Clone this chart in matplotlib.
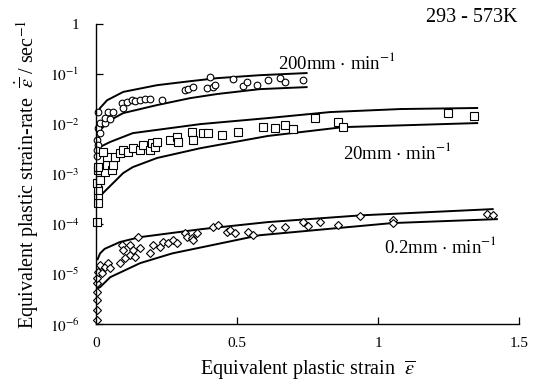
import matplotlib
matplotlib.use("Agg")
import matplotlib.pyplot as plt
from matplotlib.ticker import FixedLocator, FixedFormatter

plt.rcParams['font.family'] = ['Liberation Serif', 'DejaVu Serif']
plt.rcParams['mathtext.fontset'] = 'stix'

# ---- measured data: 200 mm/min (circles) ----
strain_200 = [0.004, 0.007, 0.004, 0.004, 0.007, 0.014, 0.014, 0.032, 0.007, 0.043,
              0.060, 0.032, 0.050, 0.092, 0.096, 0.110, 0.128, 0.138, 0.156, 0.174,
              0.191, 0.234, 0.316, 0.326, 0.344, 0.394, 0.415, 0.404, 0.422, 0.486,
              0.521, 0.535, 0.571, 0.610, 0.652, 0.670, 0.734]
rate_200 = [0.0048, 0.0038, 0.0030, 0.0023, 0.0083, 0.0066, 0.0105, 0.0105, 0.0174, 0.0174,
            0.0174, 0.0132, 0.0126, 0.026, 0.021, 0.0275, 0.030, 0.029, 0.030, 0.032,
            0.032, 0.030, 0.048, 0.050, 0.055, 0.052, 0.055, 0.087, 0.060, 0.079,
            0.058, 0.069, 0.060, 0.076, 0.083, 0.069, 0.076]

# ---- measured data: 20 mm/min (squares) ----
strain_20 = [0.004, 0.007, 0.007, 0.007, 0.004, 0.014, 0.007, 0.032, 0.007, 0.039,
             0.057, 0.060, 0.039, 0.025, 0.067, 0.085, 0.096, 0.113, 0.131, 0.156,
             0.167, 0.191, 0.199, 0.209, 0.216, 0.262, 0.287, 0.291, 0.340, 0.344,
             0.379, 0.397, 0.447, 0.504, 0.592, 0.635, 0.670, 0.699, 0.777, 0.858,
             0.876, 1.248, 1.340]
rate_20 = [1.1e-4, 2.6e-4, 3.8e-4, 4.8e-4, 6.6e-4, 7.6e-4, 1.2e-3, 1.1e-3, 1.38e-3, 1.5e-3,
           1.2e-3, 1.5e-3, 2.2e-3, 2.75e-3, 2.2e-3, 2.6e-3, 3.0e-3, 2.75e-3, 3.3e-3, 3.0e-3,
           3.8e-3, 3.0e-3, 4.2e-3, 3.5e-3, 4.4e-3, 4.8e-3, 5.5e-3, 4.4e-3, 6.9e-3, 4.8e-3,
           6.6e-3, 6.6e-3, 6.0e-3, 6.9e-3, 8.7e-3, 8.3e-3, 9.5e-3, 7.9e-3, 1.32e-2, 1.1e-2,
           8.7e-3, 1.66e-2, 1.45e-2]

# ---- measured data: 0.2 mm/min (diamonds) ----
strain_02 = [0.002, 0.002, 0.002, 0.002, 0.004, 0.004, 0.007, 0.014, 0.021, 0.032,
             0.043, 0.050, 0.085, 0.092, 0.096, 0.103, 0.121, 0.121, 0.131, 0.149,
             0.156, 0.138, 0.191, 0.202, 0.227, 0.238, 0.255, 0.273, 0.287, 0.316,
             0.323, 0.340, 0.344, 0.358, 0.415, 0.433, 0.465, 0.475, 0.493, 0.539,
             0.557, 0.624, 0.670, 0.734, 0.752, 0.794, 0.858, 0.936, 1.053, 1.053,
             1.387, 1.408]
rate_02 = [1.2e-6, 1.9e-6, 3.0e-6, 4.4e-6, 6.6e-6, 8.3e-6, 1.1e-5, 1.5e-5, 1.05e-5, 1.38e-5,
           1.66e-5, 1.32e-5, 1.66e-5, 3.8e-5, 3.0e-5, 2.1e-5, 3.8e-5, 2.4e-5, 3.0e-5, 5.5e-5,
           3.3e-5, 2.2e-5, 2.6e-5, 3.8e-5, 3.5e-5, 4.4e-5, 4.2e-5, 4.8e-5, 4.2e-5, 6.6e-5,
           5.5e-5, 5.2e-5, 4.8e-5, 6.6e-5, 8.7e-5, 9.5e-5, 6.9e-5, 7.6e-5, 6.6e-5, 6.9e-5,
           6.0e-5, 8.3e-5, 8.7e-5, 1.1e-4, 9.1e-5, 1.1e-4, 9.5e-5, 1.45e-4, 1.2e-4, 1.05e-4,
           1.58e-4, 1.51e-4]

# ---- predicted bounds (upper / lower) ----
bound_200_up_x = [0.007, 0.014, 0.039, 0.096, 0.216, 0.333, 0.43, 0.58, 0.75]
bound_200_up_y = [0.016, 0.021, 0.030, 0.044, 0.060, 0.072, 0.083, 0.095, 0.105]
bound_200_lo_x = [0.007, 0.014, 0.05, 0.096, 0.216, 0.333, 0.43, 0.58, 0.75]
bound_200_lo_y = [0.005, 0.0076, 0.012, 0.0166, 0.024, 0.033, 0.040, 0.050, 0.055]

bound_20_up_x = [0.007, 0.014, 0.05, 0.13, 0.37, 0.61, 0.83, 1.08, 1.355]
bound_20_up_y = [0.0030, 0.0035, 0.0044, 0.0066, 0.010, 0.0132, 0.0174, 0.020, 0.021]
bound_20_lo_x = [0.012, 0.021, 0.096, 0.13, 0.216, 0.37, 0.61, 0.876, 1.355]
bound_20_lo_y = [2.6e-4, 4.0e-4, 1.05e-3, 1.38e-3, 2.1e-3, 3.3e-3, 5.8e-3, 8.7e-3, 1.05e-2]

bound_02_up_x = [0.004, 0.014, 0.03, 0.085, 0.156, 0.37, 0.61, 0.94, 1.41]
bound_02_up_y = [1.9e-5, 2.6e-5, 3.2e-5, 4.4e-5, 5.5e-5, 7.9e-5, 1.1e-4, 1.5e-4, 2.0e-4]
bound_02_lo_x = [0.004, 0.014, 0.05, 0.156, 0.27, 0.43, 0.58, 1.05, 1.425]
bound_02_lo_y = [5.2e-6, 5.5e-6, 8.7e-6, 1.66e-5, 2.6e-5, 4.0e-5, 6.0e-5, 1.05e-4, 1.26e-4]

x_ticks = [0, 0.5, 1, 1.5]
x_tick_labels = ['0', '0.5', '1', '1.5']
y_ticks = [1e-6, 1e-5, 1e-4, 1e-3, 1e-2, 1e-1, 1]
y_tick_labels = [r'$10^{-6}$', r'$10^{-5}$', r'$10^{-4}$', r'$10^{-3}$',
                 r'$10^{-2}$', r'$10^{-1}$', '1']

fig = plt.figure(figsize=(5.37, 3.85), dpi=100)
ax = fig.add_axes([0.179, 0.158, 0.7875, 0.7795])
ax.set_yscale('log')
ax.set_xlim(0, 1.5)
ax.set_ylim(1e-6, 1)

line_kw = dict(color='black', lw=1.4, solid_capstyle='butt')
for bx, by in [(bound_200_up_x, bound_200_up_y), (bound_200_lo_x, bound_200_lo_y),
               (bound_20_up_x, bound_20_up_y), (bound_20_lo_x, bound_20_lo_y),
               (bound_02_up_x, bound_02_up_y), (bound_02_lo_x, bound_02_lo_y)]:
    ax.plot(bx, by, **line_kw)

mk = dict(linestyle='none', markerfacecolor='white', markeredgecolor='black',
          markeredgewidth=0.8, clip_on=False)
ax.plot(strain_200, rate_200, marker='o', markersize=4.8, **mk)
ax.plot(strain_20, rate_20, marker='s', markersize=5.2, **mk)
ax.plot(strain_02, rate_02, marker='D', markersize=4.2, **mk)

ax.spines['top'].set_visible(False)
ax.spines['right'].set_visible(False)
for s in ('left', 'bottom'):
    ax.spines[s].set_linewidth(1.0)

ax.xaxis.set_major_locator(FixedLocator(x_ticks))
ax.xaxis.set_major_formatter(FixedFormatter(x_tick_labels))
ax.yaxis.set_major_locator(FixedLocator(y_ticks))
ax.yaxis.set_major_formatter(FixedFormatter(y_tick_labels))
ax.yaxis.set_minor_locator(FixedLocator([]))
ax.tick_params(axis='both', which='major', direction='in', length=5, width=0.9,
               labelsize=11)
ax.tick_params(axis='x', pad=9)
ax.tick_params(axis='y', pad=12)

ax.set_xlabel(r'Equivalent plastic strain  $\overline{\varepsilon}$', fontsize=14.5,
              labelpad=6)
ax.set_ylabel(r'Equivalent plastic strain-rate  $\dot{\overline{\varepsilon}}$ / sec$^{-1}$',
              fontsize=14.5, labelpad=6)

ax.text(0.645, 0.17, r'200mm $\cdot$ min$^{-1}$', fontsize=13.5, va='center', ha='left')
ax.text(0.876, 2.75e-3, r'20mm $\cdot$ min$^{-1}$', fontsize=13.5, va='center', ha='left')
ax.text(1.02, 3.5e-5, r'0.2mm $\cdot$ min$^{-1}$', fontsize=13.5, va='center', ha='left')
fig.text(518 / 537, 1 - 18 / 385, '293 - 573K', fontsize=14.5, ha='right', va='center')

fig.savefig('out.png', dpi=100)
